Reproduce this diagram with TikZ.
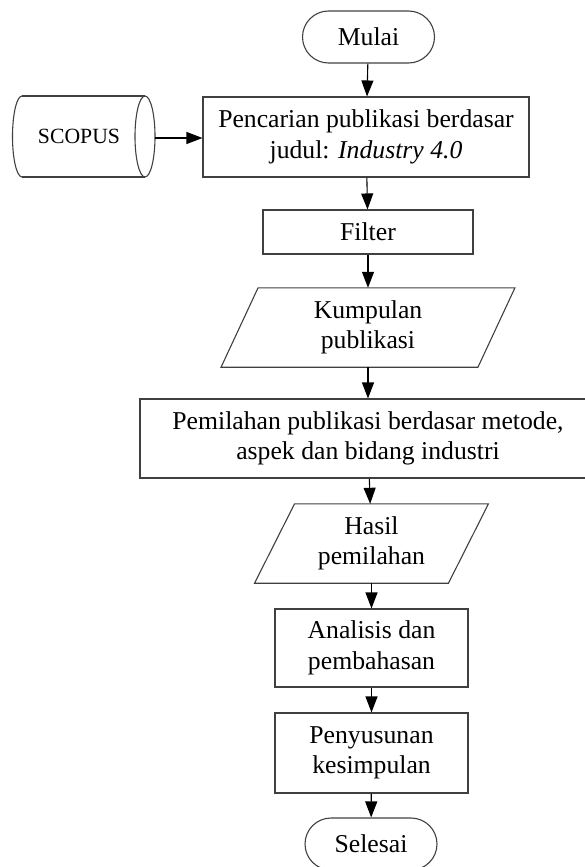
\documentclass[tikz,border=0pt]{standalone}
\usepackage{fontspec}
\setmainfont{Liberation Serif}
\usetikzlibrary{arrows.meta,shapes.misc}
\begin{document}
\begin{tikzpicture}[x=1pt,y=-1pt,
  every node/.style={font=\fontsize{25.7}{30.5}\selectfont, align=center, inner sep=0pt},
  outl/.style={draw=black!75, line width=1.1pt},
  proc/.style={outl, rectangle},
  term/.style={outl, rounded rectangle, minimum width=132pt, minimum height=52pt},
  iobox/.style={outl, line join=miter},
  arr/.style={-{Triangle[length=16pt,width=12pt]}, line width=1.1pt, black}
]
\useasboundingbox (0,0) rectangle (585,867);

% terminators and processes
\node[term] (mulai) at (368.5,37) {Mulai};
\node[proc, minimum width=326pt, minimum height=80pt] (cari) at (366,137)
  {Pencarian publikasi berdasar\\judul: \textit{Industry 4.0}};
\node[proc, minimum width=210pt, minimum height=44pt] (filter) at (368,232) {Filter};

% Kumpulan publikasi (parallelogram)
\node[minimum width=256.5pt, minimum height=79pt] (kump) at (368,327.5) {Kumpulan\\publikasi};
\draw[iobox] ([xshift=18.5pt]kump.north west) -- ([xshift=18.5pt]kump.north east)
  -- ([xshift=-18.5pt]kump.south east) -- ([xshift=-18.5pt]kump.south west) -- cycle;

\node[proc, minimum width=456pt, minimum height=79pt] (pilih) at (368,438.5)
  {Pemilahan publikasi berdasar metode,\\aspek dan bidang industri};

% Hasil pemilahan (parallelogram)
\node[minimum width=193.5pt, minimum height=79pt] (hasil) at (371.5,543.5) {Hasil\\pemilahan};
\draw[iobox] ([xshift=20pt]hasil.north west) -- ([xshift=20pt]hasil.north east)
  -- ([xshift=-20pt]hasil.south east) -- ([xshift=-20pt]hasil.south west) -- cycle;

\node[proc, minimum width=193pt, minimum height=78pt] (analisis) at (371.5,648)
  {Analisis dan\\pembahasan};
\node[proc, minimum width=193pt, minimum height=80pt] (susun) at (371.5,753)
  {Penyusunan\\kesimpulan};
\node[term] (selesai) at (371,844) {Selesai};

% SCOPUS (horizontal cylinder)
\node[font=\fontsize{21.7}{26}\selectfont] (scopus) at (79,136.5) {SCOPUS};
\draw[outl] (22,96) -- (145,96);
\draw[outl] (22,177) -- (145,177);
\draw[outl] (145,136.5) ellipse [x radius=10, y radius=40.5];
\draw[outl] (22,96) arc[start angle=-90, end angle=-270, x radius=9.5, y radius=40.5];
\coordinate (scopusR) at (155,138);

% connectors
\draw[arr] (scopusR) -- (scopusR -| cari.west);
\draw[arr] (mulai) -- (cari);
\draw[arr] (cari) -- (filter);
\draw[arr] (filter) -- (kump);
\draw[arr] (kump) -- (pilih);
\draw[arr] (pilih) -- (hasil);
\draw[arr] (hasil) -- (analisis);
\draw[arr] (analisis) -- (susun);
\draw[arr] (susun) -- (selesai);
\end{tikzpicture}
\end{document}
